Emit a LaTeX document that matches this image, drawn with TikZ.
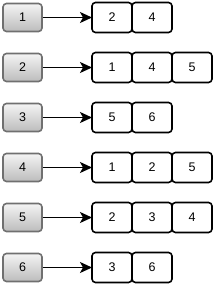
\documentclass[tikz,border=0pt]{standalone}
\usepackage{fontspec}
\setmainfont{Liberation Sans}
\usetikzlibrary{arrows.meta, positioning}
\definecolor{keyedge}{RGB}{112,112,112}
\definecolor{keytop}{RGB}{244,244,244}
\definecolor{keybottom}{RGB}{188,188,188}

\begin{document}
\begin{tikzpicture}[x=1pt,y=-1pt,
    key/.style={rectangle,rounded corners=3.5pt,draw=keyedge,line width=1.6pt,
          top color=keytop,bottom color=keybottom,minimum width=39pt,minimum height=28pt,
          inner sep=0pt,font=\fontsize{12.5}{14}\selectfont},
    cell/.style={rectangle,rounded corners=3.5pt,draw=black,line width=1.6pt,fill=white,
          minimum width=40pt,minimum height=30pt,inner sep=0pt,outer sep=0pt,
          font=\fontsize{12.5}{14}\selectfont},
    link/.style={-{Stealth[length=12pt,width=11pt,inset=3pt]},line width=1.5pt}]
    \useasboundingbox (0,0) rectangle (214,284);

    \node[key] (v1) at (22.5,17.5) {1};
    \node[cell] (v1a) at (112,17.5) {2};
    \node[cell,right=0pt of v1a] (v1b) {4};
    \draw[link] (v1) -- (v1a);

    \node[key] (v2) at (22.5,67.5) {2};
    \node[cell] (v2a) at (112,67.5) {1};
    \node[cell,right=0pt of v2a] (v2b) {4};
    \node[cell,right=0pt of v2b] (v2c) {5};
    \draw[link] (v2) -- (v2a);

    \node[key] (v3) at (22.5,117.5) {3};
    \node[cell] (v3a) at (112,117.5) {5};
    \node[cell,right=0pt of v3a] (v3b) {6};
    \draw[link] (v3) -- (v3a);

    \node[key] (v4) at (22.5,167.5) {4};
    \node[cell] (v4a) at (112,167.5) {1};
    \node[cell,right=0pt of v4a] (v4b) {2};
    \node[cell,right=0pt of v4b] (v4c) {5};
    \draw[link] (v4) -- (v4a);

    \node[key] (v5) at (22.5,217.5) {5};
    \node[cell] (v5a) at (112,217.5) {2};
    \node[cell,right=0pt of v5a] (v5b) {3};
    \node[cell,right=0pt of v5b] (v5c) {4};
    \draw[link] (v5) -- (v5a);

    \node[key] (v6) at (22.5,267.5) {6};
    \node[cell] (v6a) at (112,267.5) {3};
    \node[cell,right=0pt of v6a] (v6b) {6};
    \draw[link] (v6) -- (v6a);
  \end{tikzpicture}
\end{document}
